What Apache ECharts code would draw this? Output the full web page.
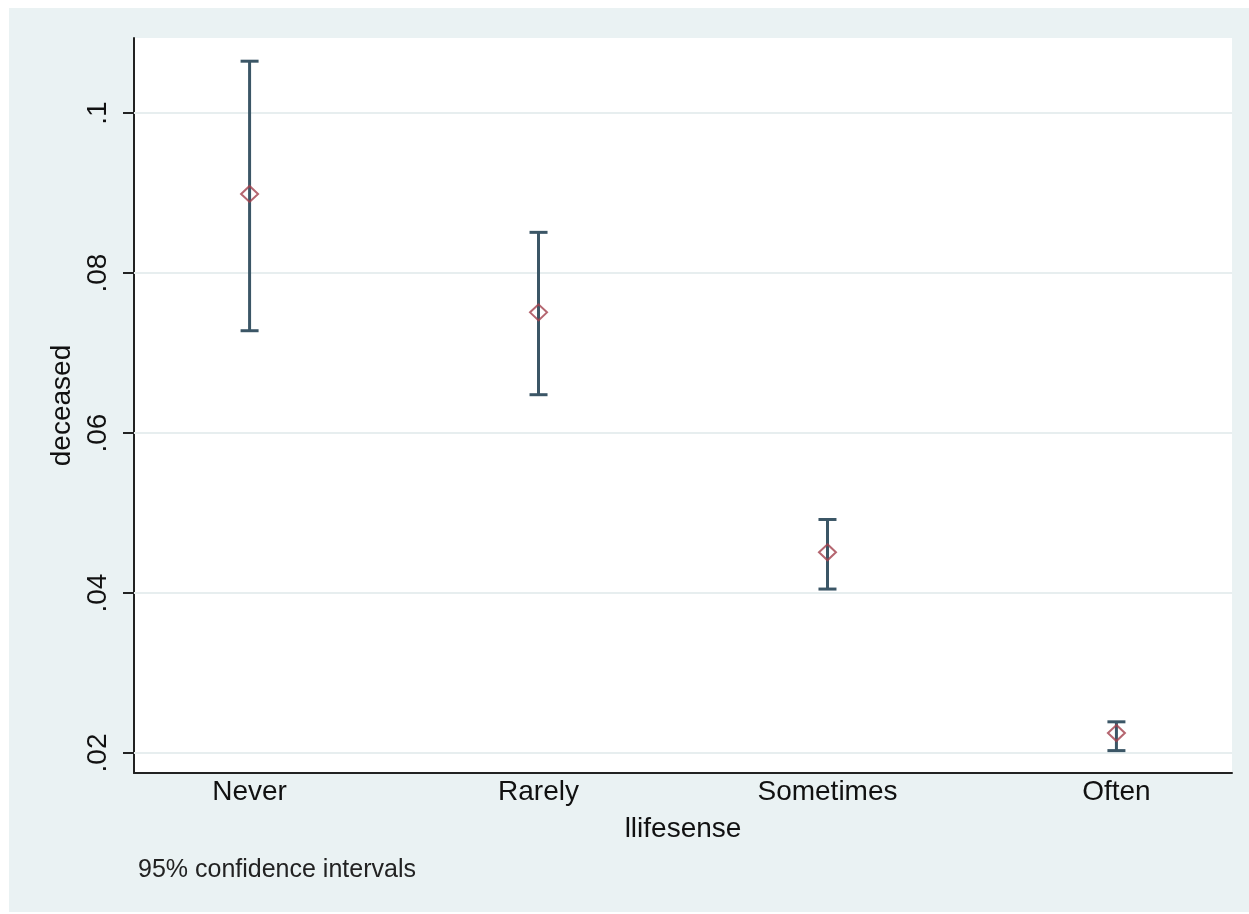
<!DOCTYPE html>
<html>
<head>
<meta charset="utf-8">
<script src="https://cdn.jsdelivr.net/npm/echarts@6/dist/echarts.min.js"></script>
<style>
  html, body { margin: 0; padding: 0; background: #fff; }
  #main { position: absolute; left: 9px; top: 8px; width: 1240px; height: 904px; }
</style>
</head>
<body>
<div id="main"></div>
<script>
  // llifesense categories and estimates of deceased with 95% CI
  const categories = ['Never', 'Rarely', 'Sometimes', 'Often']
  const means = [0.0899, 0.0751, 0.0451, 0.0225]
  const lower = [0.0728, 0.0648, 0.0405, 0.0203]
  const upper = [0.1065, 0.0851, 0.0492, 0.0239]
  const yTicks = [0.02, 0.04, 0.06, 0.08, 0.1]
  const xPos = [1, 2, 3, 4]

  const chart = echarts.init(document.getElementById('main'))

  const fmtY = function (v) {
    return String(+v.toFixed(2)).replace(/^0/, '')
  }

  const option = {
    backgroundColor: '#eaf2f3',
    animation: false,
    textStyle: { fontFamily: 'Liberation Sans, Arial, sans-serif', color: '#111' },
    grid: {
      left: 125,
      top: 30,
      right: 17,
      bottom: 139,
      show: true,
      backgroundColor: '#fff',
      borderWidth: 0
    },
    xAxis: {
      type: 'value',
      min: 0.6,
      max: 4.4,
      name: 'llifesense',
      nameLocation: 'middle',
      nameGap: 42,
      nameTextStyle: { fontSize: 28, color: '#111' },
      axisLine: { show: true, onZero: false, lineStyle: { color: '#222', width: 2 } },
      axisTick: { show: false },
      splitLine: { show: false },
      axisLabel: {
        customValues: xPos,
        fontSize: 28,
        color: '#111',
        margin: 5,
        formatter: function (v) { return categories[Math.round(v) - 1] }
      }
    },
    yAxis: {
      type: 'value',
      min: 0.0175,
      max: 0.1094,
      name: 'deceased',
      nameLocation: 'middle',
      nameRotate: 90,
      nameGap: 58,
      nameTextStyle: { fontSize: 28, color: '#111' },
      axisLine: { show: true, lineStyle: { color: '#222', width: 2 } },
      axisTick: { show: true, length: 11, customValues: yTicks, lineStyle: { color: '#222', width: 2 } },
      splitLine: { show: false },
      axisLabel: {
        customValues: yTicks,
        rotate: 90,
        fontSize: 28,
        color: '#111',
        margin: 22,
        formatter: fmtY
      }
    },
    graphic: [
      {
        type: 'text',
        left: 129,
        top: 850,
        style: { text: '95% confidence intervals', fontSize: 25, fill: '#222', fontFamily: 'Liberation Sans, Arial, sans-serif' }
      }
    ],
    series: [
      {
        type: 'line',
        data: [],
        silent: true,
        z: 1,
        markLine: {
          silent: true,
          z: 1,
          symbol: 'none',
          label: { show: false },
          lineStyle: { color: '#e7eeef', width: 2, type: 'solid' },
          data: yTicks.map(function (v) { return { yAxis: v } })
        }
      },
      {
        type: 'custom',
        renderItem: function (params, api) {
          const x = api.value(0)
          const lo = api.coord([x, api.value(1)])
          const hi = api.coord([x, api.value(2)])
          const hw = 9
          const style = { stroke: '#3b5666', lineWidth: 3 }
          return {
            type: 'group',
            children: [
              { type: 'line', shape: { x1: lo[0], y1: lo[1], x2: hi[0], y2: hi[1] }, style: style },
              { type: 'line', shape: { x1: lo[0] - hw, y1: lo[1], x2: lo[0] + hw, y2: lo[1] }, style: style },
              { type: 'line', shape: { x1: hi[0] - hw, y1: hi[1], x2: hi[0] + hw, y2: hi[1] }, style: style }
            ]
          }
        },
        data: xPos.map(function (x, i) { return [x, lower[i], upper[i]] }),
        z: 3
      },
      {
        type: 'scatter',
        symbol: 'diamond',
        symbolSize: [17, 16],
        itemStyle: { color: 'rgba(0,0,0,0)', borderColor: '#a3404c', borderWidth: 2 },
        data: xPos.map(function (x, i) { return [x, means[i]] }),
        z: 4
      }
    ]
  }

  chart.setOption(option)
</script>
</body>
</html>
